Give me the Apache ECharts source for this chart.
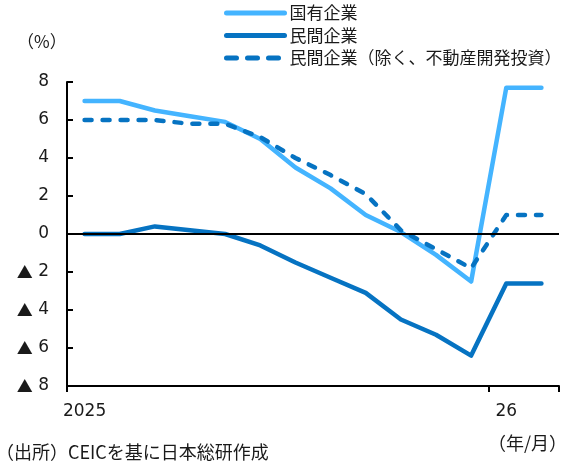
<!DOCTYPE html>
<html>
<head>
<meta charset="utf-8">
<script src="https://cdn.jsdelivr.net/npm/echarts@6/dist/echarts.min.js"></script>
<style>
  html, body { margin: 0; padding: 0; background: #fff; }
  #chart { width: 561px; height: 463px; }
</style>
</head>
<body>
<div id="chart"></div>
<script>
// Months from 2025/1 to 2026/2 (Jan and Feb share the Jan–Feb cumulative figure)
const months = ['2025', '2', '3', '4', '5', '6', '7', '8', '9', '10', '11', '12', '26', '2'];

// Cumulative fixed-asset investment, year-on-year (%)
const stateOwned = [7.0, 7.0, 6.5, 6.2, 5.9, 5.0, 3.5, 2.4, 1.0, 0.1, -1.1, -2.5, 7.7, 7.7];
const privateAll = [0.0, 0.0, 0.4, 0.2, 0.0, -0.6, -1.5, -2.3, -3.1, -4.5, -5.3, -6.4, -2.6, -2.6];
const privateExRealEstate = [6.0, 6.0, 6.0, 5.8, 5.8, 5.1, 4.0, 3.1, 2.1, 0.2, -0.8, -1.8, 1.0, 1.0];

const seriesNames = ['国有企業', '民間企業', '民間企業（除く、不動産開発投資）'];

const LIGHT = '#44B4FF';
const DARK = '#0673C2';
const TEXT = '#1a1a1a';
const FONT = "'DejaVu Sans', 'Noto Sans CJK JP', sans-serif";
const CJK = "'Noto Sans CJK JP', 'DejaVu Sans', sans-serif";

const chart = echarts.init(document.getElementById('chart'), null, { renderer: 'canvas' });

const labelTicks = (i) => i === 0 || i === 12;

const noteStyle = (size) => ({ fontFamily: CJK, fontSize: size, fontWeight: 'normal', color: TEXT });

chart.setOption({
  animation: false,
  backgroundColor: '#fff',
  textStyle: { fontFamily: FONT, color: TEXT },
  title: [
    { text: '（%）', left: 17, top: 33, padding: 0, textStyle: noteStyle(17) },
    { text: '（年/月）', right: -6, top: 434, padding: 0, textStyle: noteStyle(18) },
    { text: '（出所）CEICを基に日本総研作成', left: -4, top: 443, padding: 0, textStyle: noteStyle(18) }
  ],
  legend: {
    orient: 'vertical',
    left: 224,
    top: 2,
    padding: 0,
    itemWidth: 58,
    itemHeight: 22,
    itemGap: 0.5,
    itemStyle: { opacity: 0, borderWidth: 0 },
    textStyle: { fontFamily: CJK, fontSize: 17, color: TEXT, lineHeight: 22 },
    data: [
      { name: seriesNames[0], lineStyle: { width: 5, cap: 'round' } },
      { name: seriesNames[1], lineStyle: { width: 5, cap: 'round' } },
      { name: seriesNames[2], lineStyle: { width: 5, type: [10, 11], cap: 'round' } }
    ]
  },
  grid: { left: 67, right: 2, top: 82, bottom: 77, containLabel: false },
  xAxis: {
    type: 'category',
    data: months,
    boundaryGap: true,
    axisLine: { show: true, onZero: false, lineStyle: { color: '#000', width: 2 } },
    axisTick: { show: true, interval: labelTicks, length: 6, lineStyle: { color: '#000', width: 2 } },
    axisLabel: { interval: labelTicks, margin: 17, fontSize: 17, color: TEXT, fontFamily: FONT },
    splitLine: { show: false }
  },
  yAxis: {
    type: 'value',
    min: -8,
    max: 8,
    interval: 2,
    axisLine: { show: true, onZero: false, lineStyle: { color: '#000', width: 2 } },
    axisTick: { show: true, inside: true, length: 6, lineStyle: { color: '#000', width: 2 } },
    axisLabel: {
      margin: 18,
      fontSize: 17,
      color: TEXT,
      fontFamily: FONT,
      formatter: (v) => (v < 0 ? '{tri|▲} ' + Math.abs(v) : String(v)),
      rich: {
        tri: { fontFamily: CJK, fontSize: 16, color: TEXT }
      }
    },
    splitLine: { show: false }
  },
  series: [
    {
      name: seriesNames[0],
      type: 'line',
      data: stateOwned,
      symbol: 'none',
      color: LIGHT,
      lineStyle: { color: LIGHT, width: 4.5, cap: 'round', join: 'round' }
    },
    {
      name: seriesNames[1],
      type: 'line',
      data: privateAll,
      symbol: 'none',
      color: DARK,
      lineStyle: { color: DARK, width: 4.5, cap: 'round', join: 'round' }
    },
    {
      name: seriesNames[2],
      type: 'line',
      data: privateExRealEstate,
      symbol: 'none',
      color: DARK,
      lineStyle: { color: DARK, width: 4.5, type: [7, 11], cap: 'round', join: 'round' },
      markLine: {
        silent: true,
        symbol: 'none',
        label: { show: false },
        lineStyle: { color: '#000', width: 2, type: 'solid' },
        data: [{ yAxis: 0 }]
      }
    }
  ]
});
</script>
</body>
</html>
